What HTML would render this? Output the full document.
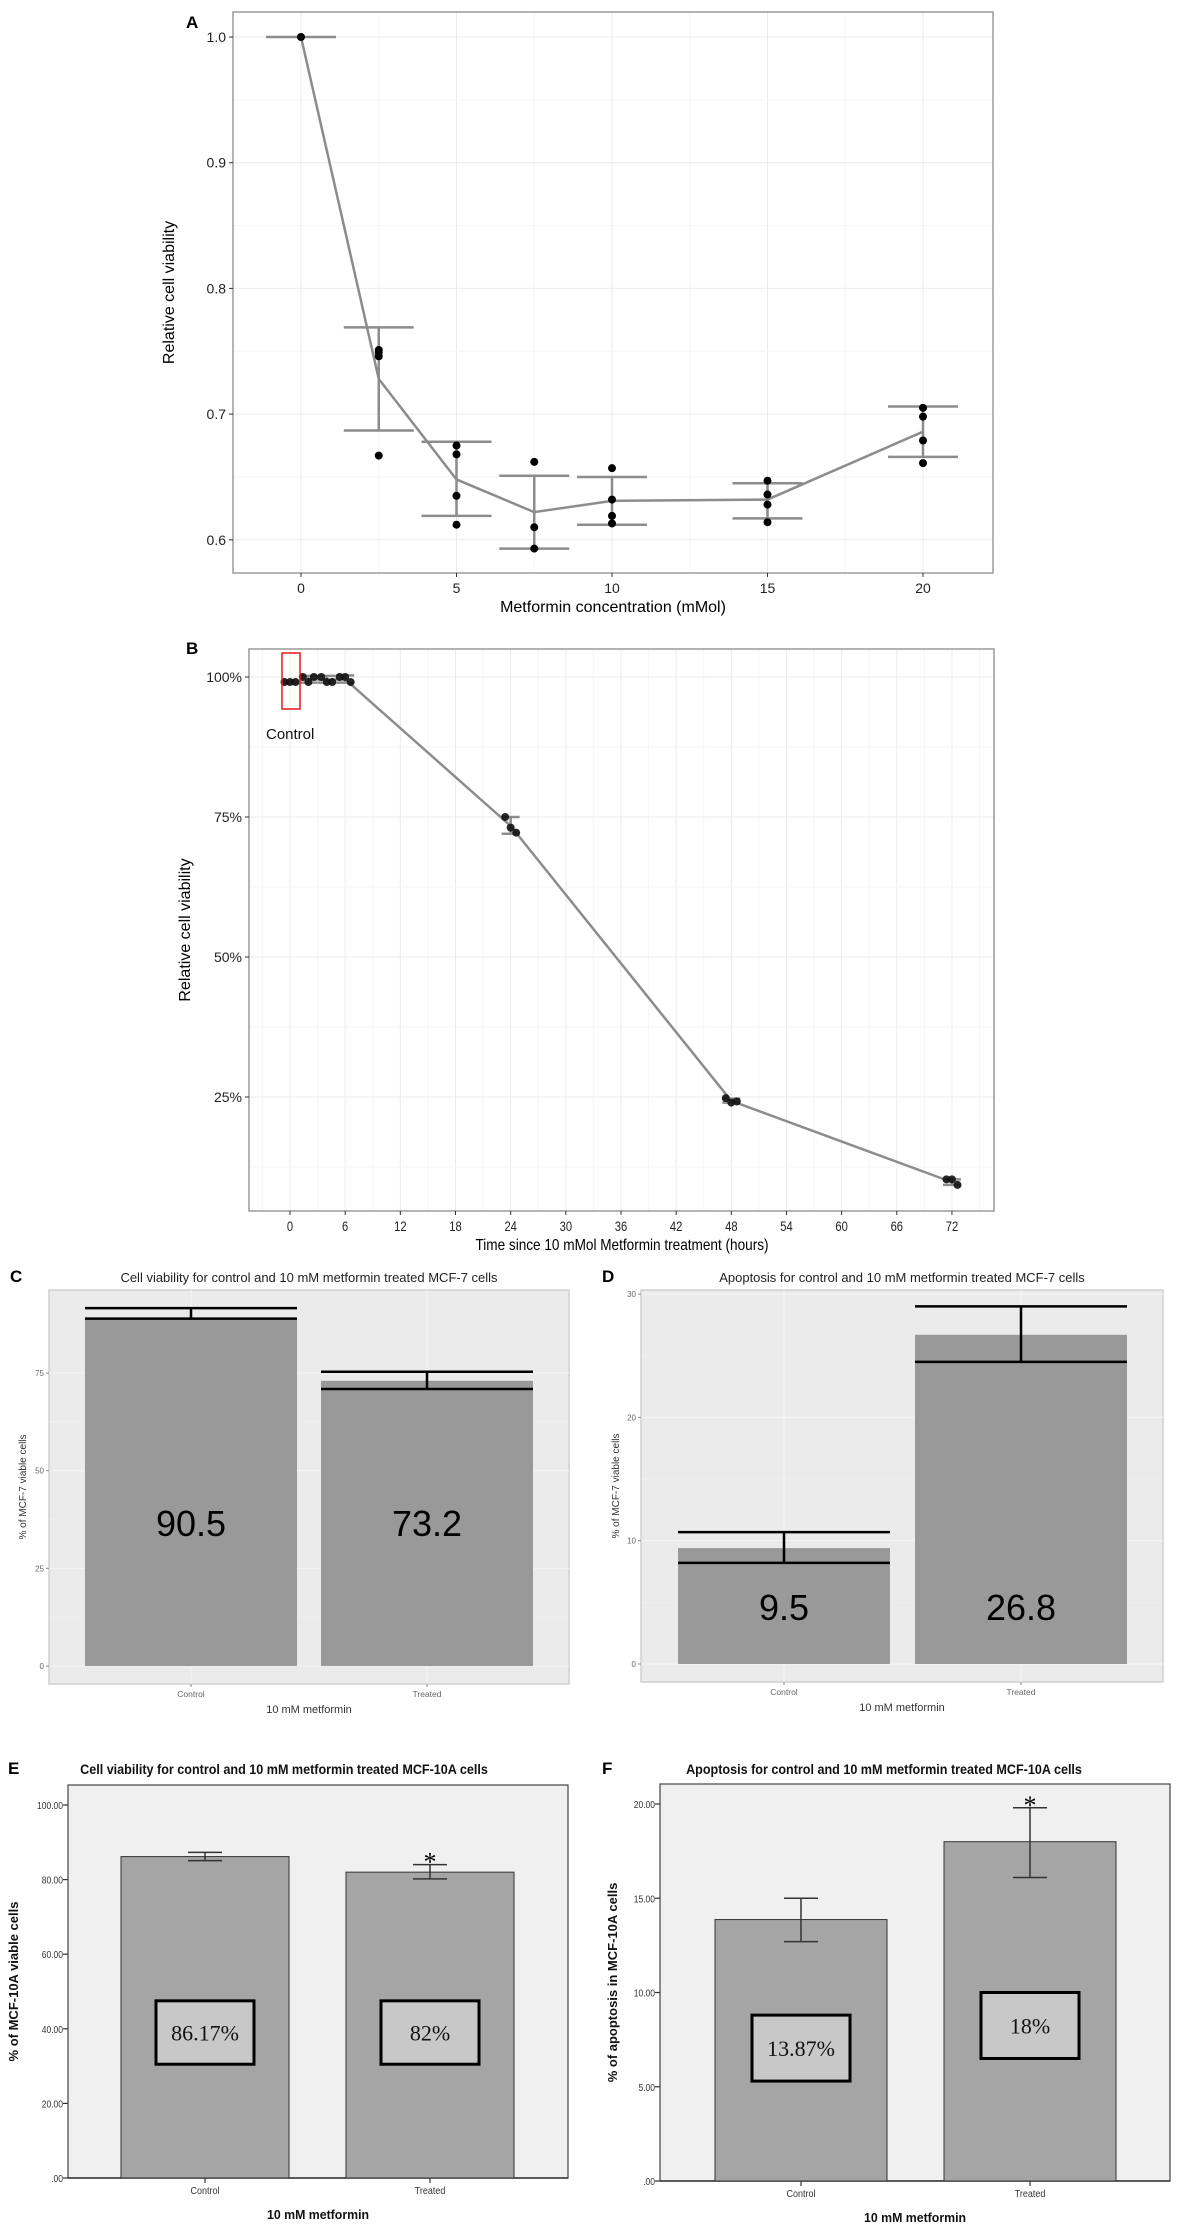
<!DOCTYPE html>
<html><head><meta charset="utf-8"><style>
html,body{margin:0;padding:0;background:#fff;}
svg{display:block;font-family:"Liberation Sans",sans-serif;}
</style></head><body>
<svg id="fig" width="1181" height="2228" viewBox="0 0 1181 2228" xmlns="http://www.w3.org/2000/svg"></svg>
<script>
// ---------- Panel A data ----------
const aX=[0,2.5,5,7.5,10,15,20];
const aMean=[1.0,0.728,0.648,0.622,0.631,0.632,0.686];
const aLo=[1.0,0.687,0.619,0.593,0.612,0.617,0.666];
const aHi=[1.0,0.769,0.678,0.651,0.650,0.645,0.706];
const aPoints=[[1.0],[0.751,0.749,0.746,0.667],[0.675,0.668,0.635,0.612],[0.662,0.610,0.593],[0.657,0.632,0.619,0.613],[0.647,0.636,0.628,0.614],[0.705,0.698,0.679,0.661]];
const aXTicks=[0,5,10,15,20];
const aYTicks=[0.6,0.7,0.8,0.9,1.0];
const aYTickLabels=["0.6","0.7","0.8","0.9","1.0"];
// ---------- Panel B data ----------
const bT=[0,2,4,6,24,48,72];
const bMean=[99.1,99.6,99.5,99.6,73.4,24.3,9.8];
const bLo=[98.9,99.0,99.0,99.0,72.0,24.0,9.3];
const bHi=[99.3,100.2,100.2,100.3,75.0,24.7,10.3];
const bPoints=[[99.1,99.1,99.1],[100,99.1,100],[100,99.1,99.1],[100,100,99.1],[75,73.1,72.2],[24.8,24.0,24.2],[10.3,10.3,9.3]];
const bXTicks=[0,6,12,18,24,30,36,42,48,54,60,66,72];
const bYTicks=[25,50,75,100];
const bYTickLabels=["25%","50%","75%","100%"];
// ---------- Panel C data ----------
const cCats=["Control","Treated"];
const cVal=[89.2,73.0];
const cLo=[88.9,70.9];
const cHi=[91.6,75.3];
const cLabels=["90.5","73.2"];
const cYTicks=[0,25,50,75];
// ---------- Panel D data ----------
const dCats=["Control","Treated"];
const dVal=[9.4,26.7];
const dLo=[8.2,24.5];
const dHi=[10.7,29.0];
const dLabels=["9.5","26.8"];
const dYTicks=[0,10,20,30];
// ---------- Panel E data ----------
const eCats=["Control","Treated"];
const eVal=[86.17,82.0];
const eLo=[85.1,80.2];
const eHi=[87.3,84.0];
const eBoxLo=[30.5,30.5];
const eBoxHi=[47.5,47.5];
const eLabels=["86.17%","82%"];
const eSig=[false,true];
const eYTicks=[0,20,40,60,80,100];
const eYTickLabels=[".00","20.00","40.00","60.00","80.00","100.00"];
// ---------- Panel F data ----------
const fCats=["Control","Treated"];
const fVal=[13.87,18.0];
const fLo=[12.7,16.1];
const fHi=[15.0,19.8];
const fBoxLo=[5.3,6.5];
const fBoxHi=[8.8,10.0];
const fLabels=["13.87%","18%"];
const fSig=[false,true];
const fYTicks=[0,5,10,15,20];
const fYTickLabels=[".00","5.00","10.00","15.00","20.00"];

const NS="http://www.w3.org/2000/svg";
const svg=document.getElementById('fig');
function el(tag,attrs,parent){const e=document.createElementNS(NS,tag);for(const k in attrs)e.setAttribute(k,attrs[k]);(parent||svg).appendChild(e);return e;}
function txt(s,attrs,parent){const e=el('text',attrs,parent);e.textContent=s;return e;}

// ================= PANEL A =================
(function(){
const g=el('g',{});


const L=233,R=993,T=12,B=573;
const xA=v=>301+v*31.1, yA=v=>37+(1-v)*1257;
for(let v=-2.5;v<=22.5;v+=2.5){const x=xA(v);if(x<=L||x>=R)continue;const ln=el('line',{x1:x,x2:x,y1:T,y2:B,stroke:(v%5===0)?'#ebebeb':'#f6f6f6','stroke-width':1},g);

}
for(let v=0.55;v<=1.01;v+=0.05){const y=yA(v);if(y<=T||y>=B)continue;const ln=el('line',{x1:L,x2:R,y1:y,y2:y,stroke:(Math.round(v*100)%10===0)?'#ebebeb':'#f6f6f6','stroke-width':1},g);

}
const fr=el('rect',{x:L,y:T,width:R-L,height:B-T,fill:'none',stroke:'#9a9a9a','stroke-width':1.5},g);


aYTicks.forEach((v,i)=>{const y=yA(v);el('line',{x1:L-4,x2:L,y1:y,y2:y,stroke:'#333','stroke-width':1},g);
const t=txt(aYTickLabels[i],{x:L-7,y:y+5,'text-anchor':'end','font-size':14,fill:'#222'},g);

});
aXTicks.forEach(v=>{const x=xA(v);el('line',{x1:x,x2:x,y1:B,y2:B+4,stroke:'#333','stroke-width':1},g);
const t=txt(String(v),{x:x,y:B+20,'text-anchor':'middle','font-size':14,fill:'#222'},g);

});
const pts=aX.map((x,i)=>xA(x)+','+yA(aMean[i])).join(' ');
const pl=el('polyline',{points:pts,fill:'none',stroke:'#8c8c8c','stroke-width':2.5},g);


aX.forEach((x,i)=>{const cx=xA(x);
const eb=el('path',{d:`M${cx-35},${yA(aHi[i])}H${cx+35}M${cx-35},${yA(aLo[i])}H${cx+35}M${cx},${yA(aHi[i])}V${yA(aLo[i])}`,stroke:'#8c8c8c','stroke-width':2.5,fill:'none'},g);


aPoints[i].forEach(v=>{const c=el('circle',{cx:cx,cy:yA(v),r:4,fill:'#000'},g);

});});
const lab=txt('A',{x:186,y:28,'font-size':17,'font-weight':'bold'},g);


const yt=txt('Relative cell viability',{x:0,y:0,'font-size':16,'text-anchor':'middle',transform:`translate(174,${(T+B)/2}) rotate(-90)`},g);


const xt=txt('Metformin concentration (mMol)',{x:613,y:612,'font-size':16,'text-anchor':'middle'},g);


})();

// ================= PANEL B =================
(function(){
const g=el('g',{});


const L=249,R=994,T=649,B=1211;
const xB=t=>290+t*9.194, yB=v=>677+(100-v)*5.6;
for(let t=-3;t<=78;t+=3){const x=xB(t);if(x<=L||x>=R)continue;const ln=el('line',{x1:x,x2:x,y1:T,y2:B,stroke:(t%6===0)?'#ebebeb':'#f6f6f6','stroke-width':1},g);

}
for(let v=0;v<=110;v+=12.5){const y=yB(v);if(y<=T||y>=B)continue;const ln=el('line',{x1:L,x2:R,y1:y,y2:y,stroke:(v%25===0)?'#ebebeb':'#f6f6f6','stroke-width':1},g);

}
const fr=el('rect',{x:L,y:T,width:R-L,height:B-T,fill:'none',stroke:'#9a9a9a','stroke-width':1.5},g);


bYTicks.forEach((v,i)=>{const y=yB(v);el('line',{x1:L-4,x2:L,y1:y,y2:y,stroke:'#333'},g);
const t=txt(bYTickLabels[i],{x:L-7,y:y+5,'text-anchor':'end','font-size':14,fill:'#222'},g);

});
bXTicks.forEach(v=>{const x=xB(v);el('line',{x1:x,x2:x,y1:B,y2:B+4,stroke:'#333'},g);
const t=txt(String(v),{x:0,y:0,'text-anchor':'middle','font-size':14,fill:'#222',transform:`translate(${x},${B+20}) scale(0.8,1)`},g);

});
const pts=bT.slice(1).map((t,i)=>xB(t)+','+yB(bMean[i+1])).join(' ');
const pl=el('polyline',{points:pts,fill:'none',stroke:'#8c8c8c','stroke-width':2.5},g);


const jit=[-0.6,0,0.6];
bT.forEach((t,i)=>{const cx=xB(t);
const eb=el('path',{d:`M${cx-9},${yB(bHi[i])}H${cx+9}M${cx-9},${yB(bLo[i])}H${cx+9}M${cx},${yB(bHi[i])}V${yB(bLo[i])}`,stroke:'#8c8c8c','stroke-width':2.5,fill:'none'},g);


bPoints[i].forEach((v,k)=>{const c=el('circle',{cx:xB(t+jit[k]),cy:yB(v),r:4,fill:'#111','fill-opacity':0.9},g);

});});
const box=el('rect',{x:282,y:653,width:18,height:56,fill:'none',stroke:'#e8191c','stroke-width':1.5},g);


const ct=txt('Control',{x:266,y:739,'font-size':15,fill:'#111'},g);


const lab=txt('B',{x:186,y:654,'font-size':17,'font-weight':'bold'},g);


const yt=txt('Relative cell viability',{x:0,y:0,'font-size':16,'text-anchor':'middle',transform:`translate(190,${(T+B)/2}) rotate(-90)`},g);


const xt=txt('Time since 10 mMol Metformin treatment (hours)',{x:0,y:0,'font-size':16,'text-anchor':'middle',transform:`translate(622,1250) scale(0.85,1)`},g);


})();

// ================= ggplot bar panels (C, D) =================
function ggBar(o){
const g=el('g',{});


const bg=el('rect',{x:o.L,y:o.T,width:o.R-o.L,height:o.B-o.T,fill:'#ebebeb',stroke:'#d0d0d0','stroke-width':1.5},g);


o.ticks.forEach((v,i)=>{const y=o.y(v);
const gl=el('line',{x1:o.L,x2:o.R,y1:y,y2:y,stroke:'#f4f4f4','stroke-width':1.2},g);


if(i<o.ticks.length-1){const ym=o.y((v+o.ticks[i+1])/2);el('line',{x1:o.L,x2:o.R,y1:ym,y2:ym,stroke:'#f0f0f0','stroke-width':0.6},g);}
el('line',{x1:o.L-3,x2:o.L,y1:y,y2:y,stroke:'#888'},g);
const t=txt(String(v),{x:o.L-5,y:y+3,'text-anchor':'end','font-size':8,fill:'#666'},g);

});
o.cats.forEach((c,i)=>{const cx=o.cx[i],w=o.w;
const gl=el('line',{x1:cx,x2:cx,y1:o.T,y2:o.B,stroke:'#f4f4f4','stroke-width':1.2},g);


const r=el('rect',{x:cx-w/2,y:o.y(o.val[i]),width:w,height:o.y(0)-o.y(o.val[i]),fill:'#999999'},g);


const eb=el('path',{d:`M${cx-w/2},${o.y(o.hi[i])}H${cx+w/2}M${cx-w/2},${o.y(o.lo[i])}H${cx+w/2}M${cx},${o.y(o.hi[i])}V${o.y(o.lo[i])}`,stroke:'#000','stroke-width':2.5,fill:'none'},g);


const vl=txt(o.labels[i],{x:cx,y:o.labelY,'text-anchor':'middle','font-size':36,fill:'#000'},g);


el('line',{x1:cx,x2:cx,y1:o.B,y2:o.B+3,stroke:'#888'},g);
const xl=txt(c,{x:cx,y:o.B+13,'text-anchor':'middle','font-size':8.5,fill:'#666'},g);

});
const lab=txt(o.letter,{x:o.lx,y:o.titleY+5,'font-size':17,'font-weight':'bold'},g);


const tt=txt(o.title,{x:(o.L+o.R)/2,y:o.titleY+5,'text-anchor':'middle','font-size':13,fill:'#222'},g);


const yt=txt('% of MCF-7 viable cells',{x:0,y:0,'text-anchor':'middle','font-size':10,fill:'#333',transform:`translate(${o.ytx},${(o.T+o.B)/2}) rotate(-90)`},g);


const xt=txt('10 mM metformin',{x:(o.L+o.R)/2,y:o.B+29,'text-anchor':'middle','font-size':11,fill:'#333'},g);


}
ggBar({name:'panel-c',p:'c',letter:'C',lx:10,L:49,R:569,T:1290,B:1684,y:v=>1666-v*3.907,ticks:cYTicks,cats:cCats,cx:[191,427],w:212,val:cVal,lo:cLo,hi:cHi,labels:cLabels,labelY:1536,titleY:1277,ytx:26,title:'Cell viability for control and 10 mM metformin treated MCF-7 cells'});
ggBar({name:'panel-d',p:'d',letter:'D',lx:602,L:641,R:1163,T:1290,B:1682,y:v=>1664-v*12.33,ticks:dYTicks,cats:dCats,cx:[784,1021],w:212,val:dVal,lo:dLo,hi:dHi,labels:dLabels,labelY:1620,titleY:1277,ytx:619,title:'Apoptosis for control and 10 mM metformin treated MCF-7 cells'});

// ================= SPSS bar panels (E, F) =================
function spssBar(o){
const g=el('g',{});


const bg=el('rect',{x:o.L,y:o.T,width:o.R-o.L,height:o.B-o.T,fill:'#f0f0f0',stroke:'#444','stroke-width':1.2},g);


o.ticks.forEach((v,i)=>{const y=o.y(v);
el('line',{x1:o.L-5,x2:o.L,y1:y,y2:y,stroke:'#333','stroke-width':1.2},g);
const t=txt(o.tickLabels[i],{x:0,y:0,'text-anchor':'end','font-size':10,fill:'#333',transform:`translate(${o.L-5},${y+4}) scale(0.85,1)`},g);

});
el('line',{x1:o.L,x2:o.R,y1:o.B,y2:o.B,stroke:'#333','stroke-width':1.5},g);
o.cats.forEach((c,i)=>{const cx=o.cx[i],w=o.w;
const r=el('rect',{x:cx-w/2,y:o.y(o.val[i]),width:w,height:o.y(0)-o.y(o.val[i]),fill:'#a5a5a5',stroke:'#333','stroke-width':1},g);


const eb=el('path',{d:`M${cx-o.cap},${o.y(o.hi[i])}H${cx+o.cap}M${cx-o.cap},${o.y(o.lo[i])}H${cx+o.cap}M${cx},${o.y(o.hi[i])}V${o.y(o.lo[i])}`,stroke:'#333','stroke-width':1.5,fill:'none'},g);


const by1=o.y(o.boxHi[i]),by2=o.y(o.boxLo[i]);
const bx=el('rect',{x:cx-49,y:by1,width:98,height:by2-by1,fill:'#c8c8c8',stroke:'#000','stroke-width':3},g);


const vl=txt(o.labels[i],{x:cx,y:(by1+by2)/2+8,'text-anchor':'middle','font-size':22,'font-family':'Liberation Serif, serif',fill:'#111'},g);


if(o.sig[i]){const s=txt('*',{x:cx,y:o.y(o.hi[i])+6,'text-anchor':'middle','font-size':26,'font-family':'Liberation Serif, serif',fill:'#000'},g);

}
el('line',{x1:cx,x2:cx,y1:o.B,y2:o.B+5,stroke:'#333','stroke-width':1.2},g);
const xl=txt(c,{x:0,y:0,'text-anchor':'middle','font-size':10,fill:'#333',transform:`translate(${cx},${o.B+16}) scale(0.9,1)`},g);

});
const lab=txt(o.letter,{x:o.lx,y:o.titleY+6,'font-size':17,'font-weight':'bold'},g);


const tt=txt(o.title,{x:0,y:0,'text-anchor':'middle','font-size':14,'font-weight':'bold',fill:'#111',transform:`translate(${o.tx},${o.titleY+6}) scale(0.9,1)`},g);


const yt=txt(o.ytitle,{x:0,y:0,'text-anchor':'middle','font-size':13,'font-weight':'bold',fill:'#111',transform:`translate(${o.ytx},${(o.T+o.B)/2}) rotate(-90)`},g);


const xt=txt('10 mM metformin',{x:0,y:0,'text-anchor':'middle','font-size':13,'font-weight':'bold',fill:'#111',transform:`translate(${o.xtx},${o.B+41}) scale(0.95,1)`},g);


}
spssBar({name:'panel-e',p:'e',letter:'E',lx:8,L:68,R:568,T:1785,B:2178,y:v=>2178-v*3.73,ticks:eYTicks,tickLabels:eYTickLabels,cats:eCats,cx:[205,430],w:168,cap:17,val:eVal,lo:eLo,hi:eHi,boxLo:eBoxLo,boxHi:eBoxHi,labels:eLabels,sig:eSig,titleY:1768,tx:284,xtx:318,ytx:18,ytitle:'% of MCF-10A viable cells',title:'Cell viability for control and 10 mM metformin treated MCF-10A cells'});
spssBar({name:'panel-f',p:'f',letter:'F',lx:602,L:660,R:1170,T:1784,B:2181,y:v=>2181-v*18.85,ticks:fYTicks,tickLabels:fYTickLabels,cats:fCats,cx:[801,1030],w:172,cap:17,val:fVal,lo:fLo,hi:fHi,boxLo:fBoxLo,boxHi:fBoxHi,labels:fLabels,sig:fSig,titleY:1768,tx:884,xtx:915,ytx:617,ytitle:'% of apoptosis in MCF-10A cells',title:'Apoptosis for control and 10 mM metformin treated MCF-10A cells'});
</script>
</body></html>
